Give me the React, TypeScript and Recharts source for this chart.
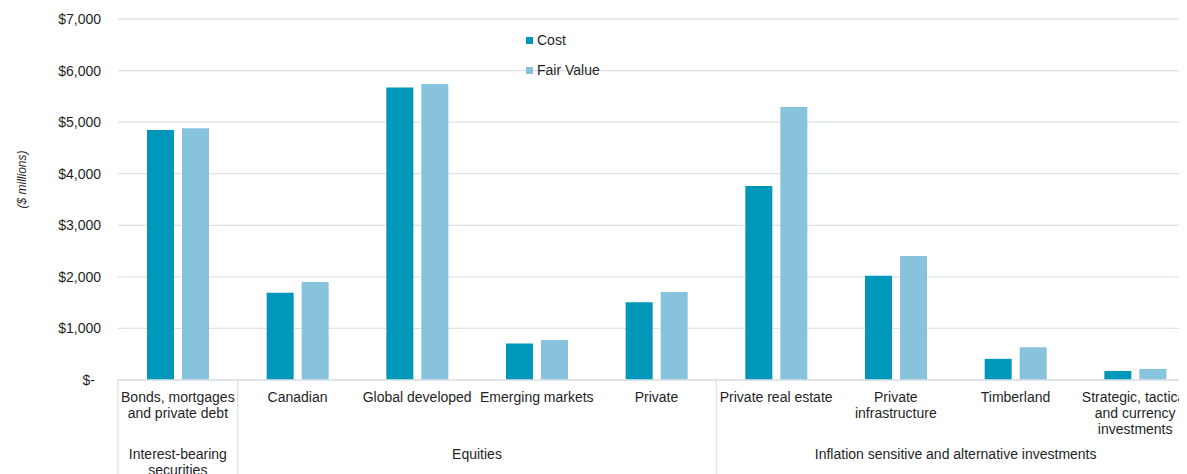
import React from "react";
import { BarChart, Bar, XAxis, YAxis, CartesianGrid, Legend, Label } from "recharts";

const categories: string[][] = [
  ["Bonds, mortgages", "and private debt"],
  ["Canadian"],
  ["Global developed"],
  ["Emerging markets"],
  ["Private"],
  ["Private real estate"],
  ["Private", "infrastructure"],
  ["Timberland"],
  ["Strategic, tactical", "and currency", "investments"],
];
const costValues = [4850, 1690, 5670, 710, 1510, 3760, 2020, 410, 175];
const fairValues = [4880, 1900, 5740, 775, 1705, 5295, 2405, 635, 215];
const groups = [
  { label: ["Interest-bearing", "securities"], start: 0, count: 1 },
  { label: ["Equities"], start: 1, count: 4 },
  { label: ["Inflation sensitive and alternative investments"], start: 5, count: 4 },
];
const yTicks = [0, 1000, 2000, 3000, 4000, 5000, 6000, 7000];

const COST = "#0097BA";
const FAIR = "#88C3DE";
const TEXT = "#1f1f1f";
const GRID = "#DFE3E9";
const FONT = "'Liberation Sans', Arial, sans-serif";

const data = categories.map((c, i) => ({
  name: c.join(" "),
  idx: i,
  cost: costValues[i],
  fair: fairValues[i],
}));

const XTick = (props: any) => {
  const { x, y, payload, index, width, visibleTicksCount } = props;
  const i = typeof index === "number" ? index : payload.index;
  const n = visibleTicksCount || categories.length;
  const step = width / n;
  const lines = categories[i] || [];
  const g = groups.find((gr) => gr.start === i);
  return (
    <g>
      {lines.map((l, k) => (
        <text
          key={k}
          x={x}
          y={y + 22 + k * 16}
          textAnchor="middle"
          fontSize={14}
          fontFamily={FONT}
          fill={TEXT}
        >
          {l}
        </text>
      ))}
      {g && (
        <g>
          <line x1={x - step / 2} x2={x - step / 2} y1={y} y2={y + 200} stroke={GRID} strokeWidth={1.3} />
          {g.label.map((l, k) => (
            <text
              key={k}
              x={x + ((g.count - 1) * step) / 2}
              y={y + 79 + k * 16}
              textAnchor="middle"
              fontSize={14}
              fontFamily={FONT}
              fill={TEXT}
            >
              {l}
            </text>
          ))}
        </g>
      )}
    </g>
  );
};

const YTick = (props: any) => {
  const { x, y, payload } = props;
  const v = payload.value;
  const label = v === 0 ? "$-" : "$" + v.toLocaleString("en-US");
  return (
    <text
      x={x - (v === 0 ? 6 : 0)}
      y={y}
      dy={5}
      textAnchor="end"
      fontSize={14}
      fontFamily={FONT}
      fill={TEXT}
    >
      {label}
    </text>
  );
};

const LegendContent = (props: any) => {
  const { payload } = props;
  return (
    <div style={{ fontFamily: FONT, fontSize: 14, color: TEXT }}>
      {(payload || []).map((p: any, i: number) => (
        <div key={i} style={{ height: 30, display: "flex", alignItems: "center" }}>
          <span style={{ width: 7, height: 7, background: p.color, display: "inline-block", marginRight: 4 }} />
          <span>{p.value}</span>
        </div>
      ))}
    </div>
  );
};

export default function App() {
  return (
    <div style={{ width: 1179, height: 466, overflow: "hidden", background: "#fff" }}>
      <BarChart
        width={1187}
        height={480}
        data={data}
        margin={{ top: 11, right: 0, left: 0, bottom: 0 }}
        barSize={27}
        barGap={8}
      >
        <CartesianGrid vertical={false} stroke={GRID} strokeWidth={1.3} />
        <XAxis
          dataKey="name"
          height={108}
          interval={0}
          tickLine={false}
          tickSize={0}
          tickMargin={0}
          axisLine={{ stroke: GRID, strokeWidth: 1.6 }}
          tick={<XTick />}
        />
        <YAxis
          width={110}
          domain={[0, 7000]}
          ticks={yTicks}
          axisLine={false}
          tickLine={false}
          tickSize={0}
          tickMargin={17}
          tick={<YTick />}
        >
          <Label
            content={(p: any) => {
              const vb = p.viewBox || { x: 0, y: 11, width: 110, height: 361 };
              const cx = vb.x + 14;
              const cy = vb.y + vb.height / 2 - 20;
              return (
                <text
                  x={cx}
                  y={cy}
                  transform={`rotate(-90 ${cx} ${cy})`}
                  textAnchor="middle"
                  dominantBaseline="central"
                  fontSize={12}
                  fontStyle="italic"
                  fontFamily={FONT}
                  fill={TEXT}
                >
                  ($ millions)
                </text>
              );
            }}
          />
        </YAxis>
        <Legend
          layout="vertical"
          verticalAlign="middle"
          align="center"
          wrapperStyle={{ top: 17, left: 518, width: "auto", height: "auto" }}
          content={<LegendContent />}
        />
        <Bar dataKey="cost" name="Cost" fill={COST} isAnimationActive={false} />
        <Bar dataKey="fair" name="Fair Value" fill={FAIR} isAnimationActive={false} />
      </BarChart>
    </div>
  );
}
